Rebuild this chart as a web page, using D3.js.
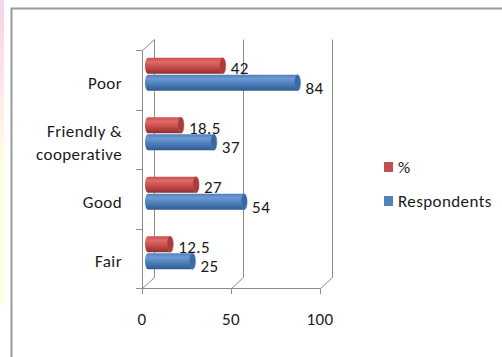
<!DOCTYPE html>
<html>
<head>
<meta charset="utf-8">
<script src="https://cdn.jsdelivr.net/npm/d3@7"></script>
<style>
  html, body { margin: 0; padding: 0; background: #fff; }
  svg { display: block; font-family: Carlito, Lato, "Liberation Sans", sans-serif; }
  svg text { letter-spacing: 0.4px; }
</style>
</head>
<body>
<svg id="chart" width="502" height="357"></svg>
<script>
// Categories listed bottom to top, as on the vertical axis
const categories = ["Fair", "Good", "Friendly & cooperative", "Poor"];
const percentValues = [12.5, 27, 18.5, 42];
const respondentValues = [25, 54, 37, 84];
const xTickValues = [0, 50, 100];
const seriesNames = ["%", "Respondents"];
const seriesColors = ["#c0504d", "#4f81bd"];

const FONT = 17;
const svg = d3.select("#chart");
const defs = svg.append("defs");

// Soft pastel strip down the left edge of the page
const strip = defs.append("linearGradient").attr("id", "strip").attr("x1", 0).attr("y1", 0).attr("x2", 0).attr("y2", 1);
strip.append("stop").attr("offset", 0).attr("stop-color", "#ead9f7");
strip.append("stop").attr("offset", 0.05).attr("stop-color", "#fbd3e6");
strip.append("stop").attr("offset", 0.3).attr("stop-color", "#ffe8ea");
strip.append("stop").attr("offset", 0.55).attr("stop-color", "#ffffe0");
strip.append("stop").attr("offset", 1).attr("stop-color", "#ffffe0");
svg.append("rect").attr("x", 0).attr("y", 0).attr("width", 4).attr("height", 305).attr("fill", "url(#strip)");

// Chart frame
svg.append("path").attr("d", "M11.5,357 V8.5 H502").attr("fill", "none").attr("stroke", "#9a9a9a").attr("stroke-width", 2);

// Front (projected) scales and the depth offset of the 3D box
const x = d3.scaleLinear().domain([0, 100]).range([142, 320]);
const y = d3.scaleBand().domain(categories.slice().reverse()).range([50, 288]);
const depth = { dx: 12, dy: -11 };
const mid = { dx: depth.dx / 2, dy: depth.dy / 2 };
const sub = d3.scaleBand().domain(seriesNames).range([0, y.bandwidth()]).paddingInner(0.06).paddingOuter(0.78);

const grid = svg.append("g").attr("fill", "none").attr("stroke", "#8c8c8c").attr("stroke-width", 1);

// Back-wall gridlines with their floor diagonals
xTickValues.forEach(t => {
  const fx = Math.round(x(t)) + 0.5;
  const bx = fx + depth.dx;
  grid.append("path").attr("d", `M${fx},288.5 L${bx},${288.5 + depth.dy} V${50.5 + depth.dy}`);
  grid.append("line").attr("x1", fx).attr("x2", fx).attr("y1", 288.5).attr("y2", 294);
});

// Left wall: front edge, top edge and category tick marks
grid.append("path").attr("d", `M142.5,288.5 V50.5 L${142.5 + depth.dx},${50.5 + depth.dy}`);
const boundaries = categories.map(c => y(c)).concat([288]);
boundaries.forEach(b => {
  grid.append("line").attr("x1", 136).attr("x2", 142.5).attr("y1", Math.round(b) + 0.5).attr("y2", Math.round(b) + 0.5);
});
// Floor front edge
grid.append("line").attr("x1", 136).attr("x2", 320.5).attr("y1", 288.5).attr("y2", 288.5);

// Cylinder shading per series
function cylGradient(id, light, base, dark) {
  const g = defs.append("linearGradient").attr("id", id).attr("x1", 0).attr("y1", 0).attr("x2", 0).attr("y2", 1);
  g.append("stop").attr("offset", 0).attr("stop-color", base);
  g.append("stop").attr("offset", 0.25).attr("stop-color", light);
  g.append("stop").attr("offset", 0.55).attr("stop-color", base);
  g.append("stop").attr("offset", 1).attr("stop-color", dark);
}
cylGradient("cyl0", "#dd6b68", "#c9504d", "#8f2f2d");
cylGradient("cyl1", "#6e9ad3", "#4f81bd", "#2f5a8f");
const capColors = ["#a63e3b", "#3b6aa3"];

const series = [percentValues, respondentValues];
const labelShift = [2.5, 5];
const bars = svg.append("g");
const labels = svg.append("g").attr("font-size", FONT).attr("fill", "#1a1a1a");
const rx = 3;

categories.forEach((c, i) => {
  seriesNames.forEach((s, k) => {
    const v = series[k][i];
    const top = y(c) + sub(s) + mid.dy;
    const h = sub.bandwidth();
    const x0 = x(0) + mid.dx;
    const x1 = x(v) + mid.dx;
    const ry = h / 2;
    const cy = top + ry;
    // body with rounded left end
    bars.append("path")
      .attr("d", `M${x1},${top} H${x0} A${rx},${ry} 0 0 0 ${x0},${top + h} H${x1} Z`)
      .attr("fill", `url(#cyl${k})`);
    // right end cap
    bars.append("ellipse").attr("cx", x1).attr("cy", cy).attr("rx", rx).attr("ry", ry)
      .attr("fill", capColors[k]).attr("stroke", seriesColors[k]).attr("stroke-width", 0.6);
    labels.append("text")
      .attr("x", x1 + rx + 5)
      .attr("y", cy + labelShift[k])
      .attr("dy", "0.35em")
      .text(v);
  });
});

// Category labels
const catLabels = svg.append("g").attr("font-size", FONT).attr("fill", "#1a1a1a").attr("text-anchor", "end");
categories.forEach(c => {
  const cy = y(c) + y.bandwidth() / 2 + 3;
  const lines = c === "Friendly & cooperative" ? ["Friendly &", "cooperative"] : [c];
  lines.forEach((ln, j) => {
    catLabels.append("text")
      .attr("x", 122)
      .attr("y", cy + (j - (lines.length - 1) / 2) * 23)
      .attr("dy", "0.35em")
      .text(ln);
  });
});

// Value axis labels
const xAxis = svg.append("g").attr("font-size", FONT).attr("fill", "#1a1a1a").attr("text-anchor", "middle");
xTickValues.forEach(t => {
  xAxis.append("text").attr("x", x(t)).attr("y", 319).attr("dy", "0.35em").text(t);
});

// Legend
const legend = svg.append("g").attr("font-size", FONT).attr("fill", "#1a1a1a");
seriesNames.forEach((s, k) => {
  const ly = 167 + k * 34;
  legend.append("rect").attr("x", 384).attr("y", ly - 5).attr("width", 9).attr("height", 10).attr("fill", seriesColors[k]);
  legend.append("text").attr("x", 398).attr("y", ly).attr("dy", "0.35em").text(s);
});
</script>
</body>
</html>
